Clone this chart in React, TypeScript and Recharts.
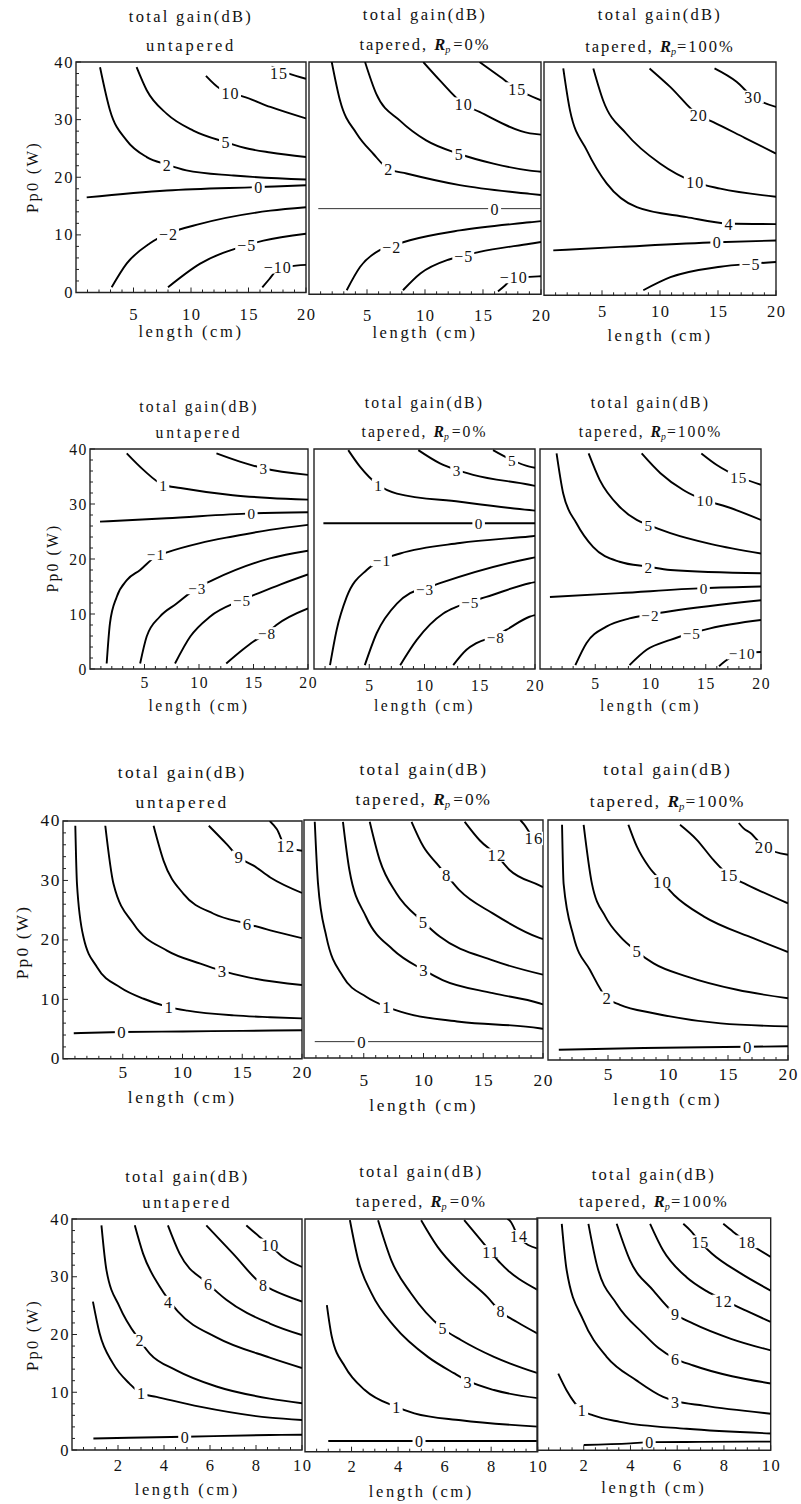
import React from 'react';
import { ComposedChart, Line, XAxis, YAxis, ReferenceArea } from 'recharts';

type Pt = [number, number];
interface Contour { level: string; pts: Pt[] }
interface Lbl { x: number; y: number; text: string }

// ---------- tick values ----------
const xTicksLong = [1, 2, 3, 4, 5, 6, 7, 8, 9, 10, 11, 12, 13, 14, 15, 16, 17, 18, 19, 20];
const xMajorLong = [5, 10, 15, 20];
const xTicksShort = [0.5, 1, 1.5, 2, 2.5, 3, 3.5, 4, 4.5, 5, 5.5, 6, 6.5, 7, 7.5, 8, 8.5, 9, 9.5, 10];
const xMajorShort = [2, 4, 6, 8, 10];
const yTicksAll = [0, 2, 4, 6, 8, 10, 12, 14, 16, 18, 20, 22, 24, 26, 28, 30, 32, 34, 36, 38, 40];
const yMajor = [0, 10, 20, 30, 40];

// ---------- text ----------
const titleMain = 'total gain(dB)';
const subUntapered = 'untapered';
const subTapered = 'tapered,';
const rpZero = '=0%';
const rpFull = '=100%';
const xLabelText = 'length (cm)';
const yLabelText = 'Pp0 (W)';

// ---------- row 1 ----------
const r1p1Lines: Contour[] = [
  { level: '15', pts: [[17.0, 39.2], [18.5, 38.0], [20, 37.1]] },
  { level: '10', pts: [[11.3, 37.6], [12.5, 35.4], [13.4, 34.6], [14.55, 34.0], [16.9, 32.2], [20, 30.2]] },
  { level: '5', pts: [[5.27, 39.1], [6.15, 35.1], [7.9, 31.0], [10.2, 28.1], [13.0, 26.1], [15.1, 24.9], [16.9, 24.3], [20, 23.5]] },
  { level: '2', pts: [[2.09, 39.1], [2.96, 31.6], [4.4, 26.4], [6.15, 23.5], [7.9, 22.2], [9.6, 21.2], [13.7, 20.3], [20, 19.6]] },
  { level: '0', pts: [[0.93, 16.5], [7.9, 17.7], [15.85, 18.3], [20, 18.6]] },
  { level: '-2', pts: [[3.1, 0.9], [4.4, 5.0], [6.4, 8.5], [8.0, 10.2], [10.8, 11.9], [16.9, 14.2], [20, 14.8]] },
  { level: '-5', pts: [[8.0, 0.9], [10.8, 5.0], [14.8, 8.2], [16.3, 9.0], [20, 10.2]] },
  { level: '-10', pts: [[16.2, 0.9], [16.8, 2.3], [17.5, 3.9], [18.5, 4.5], [20, 4.8]] },
];
const r1p1Labels: Lbl[] = [
  { x: 17.6, y: 38.1, text: '15' }, { x: 13.4, y: 34.6, text: '10' }, { x: 13.0, y: 26.1, text: '5' },
  { x: 7.9, y: 22.2, text: '2' }, { x: 15.85, y: 18.3, text: '0' }, { x: 8.0, y: 10.2, text: '−2' },
  { x: 14.8, y: 8.2, text: '−5' }, { x: 17.5, y: 4.4, text: '−10' },
];

const r1p2Lines: Contour[] = [
  { level: '15', pts: [[14.7, 40], [16.5, 37.4], [17.9, 35.4], [20, 33.4]] },
  { level: '10', pts: [[9.85, 40], [11.3, 36.8], [13.3, 32.8], [14.7, 31.4], [19.05, 27.7], [20, 27.5]] },
  { level: '5', pts: [[4.83, 40], [5.8, 34.5], [7.84, 29.9], [10.1, 26.5], [12.9, 24.2], [15.9, 22.5], [19.05, 21.3], [20, 21.1]] },
  { level: '2', pts: [[1.96, 40], [2.67, 33.4], [4.1, 27.7], [5.54, 24.2], [6.84, 21.6], [8.4, 20.8], [13.0, 18.8], [19.05, 17.3], [20, 17.1]] },
  { level: '0', pts: [[0.8, 14.75], [20, 14.75]] },
  { level: '-2', pts: [[3.25, 0.7], [4.4, 4.7], [6.1, 7.6], [7.1, 8.3], [8.7, 9.3], [13.0, 11.0], [19.05, 12.4], [20, 12.6]] },
  { level: '-5', pts: [[8.1, 0.7], [9.6, 3.6], [11.9, 5.9], [13.3, 6.6], [14.7, 7.3], [19.05, 8.7], [20, 9.0]] },
  { level: '-10', pts: [[16.3, 0.5], [16.9, 1.5], [17.6, 2.8], [19, 3.0], [20, 3.1]] },
];
const r1p2Labels: Lbl[] = [
  { x: 17.9, y: 35.4, text: '15' }, { x: 13.3, y: 32.8, text: '10' }, { x: 12.9, y: 24.2, text: '5' },
  { x: 6.84, y: 21.6, text: '2' }, { x: 16.0, y: 14.75, text: '0' }, { x: 7.1, y: 8.2, text: '−2' },
  { x: 13.3, y: 6.6, text: '−5' }, { x: 17.6, y: 3.0, text: '−10' },
];

const r1p3Lines: Contour[] = [
  { level: '30', pts: [[14.7, 38.9], [16.6, 36.6], [18.0, 34.0], [20, 32.3]] },
  { level: '20', pts: [[9.1, 38.9], [10.9, 35.7], [13.3, 30.9], [14.6, 29.7], [17.3, 27.0], [20, 24.3]] },
  { level: '10', pts: [[4.25, 38.9], [5.1, 33.4], [7.1, 27.7], [10.0, 22.6], [13.0, 19.4], [15.2, 18.3], [20, 16.9]] },
  { level: '4', pts: [[1.66, 38.9], [2.24, 31.7], [3.68, 24.9], [5.4, 19.2], [8.0, 15.1], [12.3, 13.4], [15.9, 12.3], [20, 12.2]] },
  { level: '0', pts: [[0.8, 7.7], [6.55, 8.3], [14.9, 9.1], [20, 9.4]] },
  { level: '-5', pts: [[8.56, 0.86], [10.9, 3.1], [15.2, 4.9], [17.8, 5.4], [20, 5.7]] },
];
const r1p3Labels: Lbl[] = [
  { x: 18.0, y: 34.0, text: '30' }, { x: 13.3, y: 30.9, text: '20' }, { x: 13.0, y: 19.4, text: '10' },
  { x: 15.9, y: 12.3, text: '4' }, { x: 14.9, y: 9.1, text: '0' }, { x: 17.8, y: 5.4, text: '−5' },
];

// ---------- row 2 ----------
const r2p1Lines: Contour[] = [
  { level: '3', pts: [[11.6, 39.2], [13.75, 37.7], [15.9, 36.5], [20, 35.3]] },
  { level: '1', pts: [[3.37, 39.2], [4.9, 36.2], [6.7, 33.5], [8.3, 32.9], [13.1, 31.6], [16.5, 31.1], [20, 30.8]] },
  { level: '0', pts: [[0.92, 26.8], [7.0, 27.4], [14.8, 28.3], [20, 28.5]] },
  { level: '-1', pts: [[1.53, 1.0], [1.83, 8.3], [2.45, 13.1], [3.4, 16.2], [4.6, 18.0], [6.0, 20.4], [7.2, 21.3], [10.1, 22.9], [13.1, 24.1], [16.5, 25.3], [20, 26.2]] },
  { level: '-3', pts: [[4.6, 1.0], [5.2, 5.9], [6.4, 9.5], [7.95, 11.9], [9.8, 14.7], [11.3, 16.2], [16.5, 20.1], [20, 21.5]] },
  { level: '-5', pts: [[7.8, 1.0], [9.2, 5.9], [11.0, 9.5], [13.9, 12.5], [15.6, 13.9], [17.5, 15.4], [20, 17.2]] },
  { level: '-8', pts: [[12.5, 1.0], [14.0, 3.5], [15.0, 5.0], [16.2, 6.5], [17.1, 8.0], [20, 11.0]] },
];
const r2p1Labels: Lbl[] = [
  { x: 6.7, y: 33.5, text: '1' }, { x: 15.9, y: 36.5, text: '3' }, { x: 14.8, y: 28.3, text: '0' },
  { x: 6.0, y: 20.9, text: '−1' }, { x: 9.8, y: 14.7, text: '−3' }, { x: 13.9, y: 12.5, text: '−5' },
  { x: 16.2, y: 6.5, text: '−8' },
];

const r2p2Lines: Contour[] = [
  { level: '5', pts: [[16.2, 39.8], [17.9, 38.0], [19.5, 36.8], [20, 36.6]] },
  { level: '3', pts: [[9.44, 39.8], [11.4, 37.4], [12.9, 36.2], [14.4, 35.3], [19.5, 33.5], [20, 33.3]] },
  { level: '1', pts: [[3.1, 39.8], [4.16, 36.8], [5.8, 33.5], [7.5, 31.9], [13.2, 30.4], [19.5, 28.9], [20, 28.8]] },
  { level: '0', pts: [[0.85, 26.5], [20, 26.5]] },
  { level: '-1', pts: [[1.45, 0.7], [2.05, 7.1], [2.96, 13.1], [4.77, 18.0], [6.1, 19.8], [7.8, 21.0], [13.2, 22.9], [19.5, 24.1], [20, 24.2]] },
  { level: '-3', pts: [[4.6, 0.7], [5.67, 6.5], [7.5, 11.9], [8.7, 13.8], [10.0, 14.6], [11.4, 15.6], [19.5, 20.1], [20, 20.3]] },
  { level: '-5', pts: [[7.8, 0.7], [9.3, 5.3], [11.7, 10.1], [12.9, 11.3], [14.1, 12.2], [15.6, 13.1], [19.5, 15.6], [20, 15.8]] },
  { level: '-8', pts: [[12.6, 0.7], [13.8, 3.5], [14.7, 4.7], [16.4, 6.0], [17.4, 7.1], [19.5, 9.5], [20, 9.8]] },
];
const r2p2Labels: Lbl[] = [
  { x: 5.8, y: 33.5, text: '1' }, { x: 12.9, y: 36.2, text: '3' }, { x: 17.9, y: 38.0, text: '5' },
  { x: 14.9, y: 26.5, text: '0' }, { x: 6.1, y: 19.8, text: '−1' }, { x: 10.0, y: 14.5, text: '−3' },
  { x: 14.1, y: 12.2, text: '−5' }, { x: 16.4, y: 5.8, text: '−8' },
];

const r2p3Lines: Contour[] = [
  { level: '15', pts: [[14.6, 39.2], [16.0, 37.1], [17.95, 35.0], [20, 33.5]] },
  { level: '10', pts: [[9.2, 39.2], [10.9, 35.6], [13.0, 32.5], [14.9, 30.7], [16.9, 29.5], [20, 27.1]] },
  { level: '5', pts: [[4.4, 39.2], [5.4, 34.4], [7.2, 29.5], [8.75, 27.1], [9.8, 26.2], [11.8, 24.7], [15.5, 22.7], [20, 21.0]] },
  { level: '2', pts: [[1.5, 39.2], [2.1, 31.9], [3.3, 26.5], [4.8, 22.2], [7.2, 19.5], [9.8, 18.6], [11.8, 18.0], [20, 17.4]] },
  { level: '0', pts: [[0.9, 13.1], [7.2, 13.8], [14.8, 14.7], [20, 15.0]] },
  { level: '-2', pts: [[3.2, 0.7], [4.2, 4.7], [6.0, 7.7], [8.1, 9.2], [9.95, 9.9], [11.8, 10.5], [20, 12.5]] },
  { level: '-5', pts: [[8.1, 0.7], [9.65, 3.5], [11.8, 5.3], [13.7, 6.5], [15.4, 7.4], [20, 8.9]] },
  { level: '-10', pts: [[16.2, 0.5], [16.8, 1.5], [17.8, 2.6], [19, 3.0], [20, 3.1]] },
];
const r2p3Labels: Lbl[] = [
  { x: 17.95, y: 35.0, text: '15' }, { x: 14.9, y: 30.7, text: '10' }, { x: 9.8, y: 26.2, text: '5' },
  { x: 9.8, y: 18.6, text: '2' }, { x: 14.8, y: 14.7, text: '0' }, { x: 9.95, y: 9.8, text: '−2' },
  { x: 13.7, y: 6.5, text: '−5' }, { x: 18.25, y: 2.85, text: '−10' },
];

// ---------- row 3 ----------
const r3p1Lines: Contour[] = [
  { level: '12', pts: [[17.3, 40], [17.9, 38.6], [18.6, 35.8], [20, 35.0]] },
  { level: '9', pts: [[12.2, 39.2], [13.7, 36.1], [14.7, 33.9], [15.95, 32.5], [17.35, 30.5], [20, 27.9]] },
  { level: '6', pts: [[7.58, 39.2], [8.42, 33.3], [10.1, 27.7], [12.6, 24.4], [15.4, 22.7], [17.35, 21.6], [20, 20.3]] },
  { level: '3', pts: [[3.54, 39.2], [4.23, 29.4], [5.9, 22.7], [8.7, 18.2], [11.5, 16.0], [13.3, 14.8], [15.5, 13.7], [20, 12.4]] },
  { level: '1', pts: [[1.03, 39.2], [1.17, 29.4], [1.72, 20.4], [2.85, 15.4], [4.8, 12.0], [6.75, 10.1], [8.84, 8.7], [10.4, 8.1], [14.3, 7.3], [17.35, 7.0], [20, 6.8]] },
  { level: '0', pts: [[0.9, 4.3], [4.9, 4.5], [10, 4.6], [15, 4.7], [20, 4.8]] },
];
const r3p1Labels: Lbl[] = [
  { x: 18.6, y: 35.8, text: '12' }, { x: 14.7, y: 33.9, text: '9' }, { x: 15.4, y: 22.7, text: '6' },
  { x: 13.3, y: 14.8, text: '3' }, { x: 8.84, y: 8.7, text: '1' }, { x: 4.9, y: 4.5, text: '0' },
];

const r3p2Lines: Contour[] = [
  { level: '16', pts: [[18.1, 40], [18.4, 39.3], [19.2, 37.0], [20, 36.2]] },
  { level: '12', pts: [[13.45, 39.7], [14.7, 36.6], [16.1, 34.1], [17.2, 31.6], [19.7, 29.0], [20, 28.7]] },
  { level: '8', pts: [[9.0, 39.7], [10.0, 35.5], [11.1, 32.7], [11.9, 30.8], [13.0, 28.2], [15.8, 24.3], [19.7, 20.2], [20, 20.0]] },
  { level: '5', pts: [[5.5, 39.7], [6.33, 33.3], [7.73, 27.7], [9.96, 22.9], [11.36, 20.4], [15.8, 16.4], [20, 14.0]] },
  { level: '3', pts: [[3.26, 39.7], [3.8, 31.6], [5.2, 23.7], [7.45, 18.2], [10.0, 14.8], [11.6, 13.1], [15.8, 10.9], [19.7, 9.2], [20, 9.0]] },
  { level: '1', pts: [[0.9, 39.7], [1.17, 29.4], [1.87, 20.4], [3.26, 13.7], [5.2, 10.3], [6.9, 8.6], [8.57, 7.5], [13.0, 6.1], [19.7, 5.0], [20, 4.9]] },
  { level: '0', pts: [[0.9, 2.75], [20, 2.75]] },
];
const r3p2Labels: Lbl[] = [
  { x: 19.2, y: 36.9, text: '16' }, { x: 16.1, y: 34.1, text: '12' }, { x: 11.9, y: 30.8, text: '8' },
  { x: 9.96, y: 22.9, text: '5' }, { x: 10.0, y: 14.8, text: '3' }, { x: 6.9, y: 8.6, text: '1' },
  { x: 4.8, y: 2.75, text: '0' },
];

const r3p3Lines: Contour[] = [
  { level: '20', pts: [[15.9, 39.5], [16.3, 38.6], [16.9, 37.8], [18.0, 35.5], [20, 34.2]] },
  { level: '15', pts: [[11.0, 39.2], [12.4, 36.7], [13.8, 33.3], [15.05, 30.8], [16.6, 29.2], [20, 26.1]] },
  { level: '10', pts: [[6.7, 39.2], [7.4, 35.6], [8.4, 32.2], [9.5, 29.7], [10.5, 27.5], [13.0, 23.9], [17.1, 20.3], [20, 18.0]] },
  { level: '5', pts: [[2.97, 39.2], [3.66, 29.4], [4.78, 23.9], [6.0, 20.6], [7.4, 18.1], [8.8, 16.1], [11.6, 13.9], [15.75, 11.7], [20, 10.3]] },
  { level: '2', pts: [[1.17, 39.2], [1.3, 29.4], [2.13, 20.6], [3.5, 15.0], [4.9, 10.3], [6.0, 9.2], [8.8, 7.8], [14.4, 6.1], [20, 5.6]] },
  { level: '0', pts: [[0.9, 1.7], [8, 2.0], [16.6, 2.2], [20, 2.3]] },
];
const r3p3Labels: Lbl[] = [
  { x: 17.97, y: 35.5, text: '20' }, { x: 15.05, y: 30.8, text: '15' }, { x: 9.5, y: 29.7, text: '10' },
  { x: 7.4, y: 18.1, text: '5' }, { x: 4.9, y: 10.3, text: '2' }, { x: 16.6, y: 2.2, text: '0' },
];

// ---------- row 4 ----------
const r4p1Lines: Contour[] = [
  { level: '10', pts: [[7.58, 38.9], [8.16, 36.9], [8.6, 35.5], [9.17, 33.4], [10, 31.7]] },
  { level: '8', pts: [[5.84, 38.9], [7.0, 34.0], [8.3, 28.6], [8.74, 27.7], [10, 25.7]] },
  { level: '6', pts: [[4.17, 38.9], [4.68, 34.0], [5.91, 28.8], [6.71, 26.0], [8.6, 21.9], [10, 19.9]] },
  { level: '4', pts: [[2.73, 38.9], [3.09, 34.0], [3.81, 28.3], [4.2, 26.0], [4.6, 24.0], [6.28, 19.5], [8.6, 16.0], [10, 14.2]] },
  { level: '2', pts: [[1.28, 38.9], [1.5, 31.1], [2.07, 24.8], [2.94, 19.0], [3.38, 16.7], [4.54, 13.8], [6.28, 11.0], [8.6, 8.9], [10, 8.1]] },
  { level: '1', pts: [[0.91, 25.7], [1.2, 20.2], [1.78, 15.0], [2.5, 11.5], [3.0, 9.8], [3.67, 9.2], [5.55, 7.5], [8.6, 5.6], [10, 5.2]] },
  { level: '0', pts: [[0.93, 2.0], [4.9, 2.3], [8.6, 2.6], [10, 2.65]] },
];
const r4p1Labels: Lbl[] = [
  { x: 8.6, y: 35.5, text: '10' }, { x: 8.3, y: 28.6, text: '8' }, { x: 5.91, y: 28.8, text: '6' },
  { x: 4.17, y: 25.6, text: '4' }, { x: 2.94, y: 19.0, text: '2' }, { x: 3.0, y: 9.8, text: '1' },
  { x: 4.9, y: 2.3, text: '0' },
];

const r4p2Lines: Contour[] = [
  { level: '14', pts: [[8.7, 40], [8.83, 39.6], [9.18, 36.9], [10, 34.9]] },
  { level: '11', pts: [[6.84, 39.8], [7.55, 36.4], [7.97, 34.4], [8.4, 32.4], [10, 27.8]] },
  { level: '8', pts: [[4.99, 39.8], [5.7, 35.2], [6.7, 30.7], [7.83, 26.6], [8.4, 24.1], [9.11, 22.3], [10, 20.3]] },
  { level: '5', pts: [[3.14, 39.8], [3.71, 32.9], [4.56, 27.2], [5.91, 21.2], [6.7, 19.2], [8.12, 16.3], [10, 13.5]] },
  { level: '3', pts: [[1.93, 39.8], [2.29, 32.9], [2.86, 27.2], [3.85, 21.5], [5.28, 16.3], [6.4, 13.5], [6.98, 12.2], [8.12, 10.6], [10, 9.2]] },
  { level: '1', pts: [[0.94, 25.2], [1.15, 19.8], [1.72, 14.6], [2.57, 10.6], [3.92, 7.7], [4.7, 6.6], [6.7, 5.4], [10, 4.3]] },
  { level: '0', pts: [[1.0, 1.85], [10, 1.85]] },
];
const r4p2Labels: Lbl[] = [
  { x: 9.18, y: 37.0, text: '14' }, { x: 7.97, y: 34.4, text: '11' }, { x: 8.4, y: 24.1, text: '8' },
  { x: 5.91, y: 21.2, text: '5' }, { x: 6.98, y: 12.0, text: '3' }, { x: 3.92, y: 7.7, text: '1' },
  { x: 4.9, y: 1.85, text: '0' },
];

const r4p3Lines: Contour[] = [
  { level: '18', pts: [[7.97, 39.0], [8.4, 37.6], [8.97, 35.9], [10, 33.3]] },
  { level: '15', pts: [[6.26, 39.0], [6.55, 37.9], [6.97, 35.9], [7.48, 33.9], [8.7, 30.5], [10, 27.5]] },
  { level: '12', pts: [[4.84, 39.0], [5.4, 34.4], [6.4, 29.8], [7.26, 27.4], [7.97, 25.9], [8.97, 24.0], [10, 22.1]] },
  { level: '9', pts: [[3.41, 39.0], [3.98, 32.7], [4.98, 27.5], [5.9, 23.5], [6.69, 21.8], [8.3, 19.2], [10, 17.2]] },
  { level: '6', pts: [[2.2, 39.0], [2.55, 32.1], [3.41, 25.2], [4.55, 20.1], [5.2, 17.6], [5.9, 15.8], [6.69, 14.6], [10, 11.5]] },
  { level: '3', pts: [[1.06, 39.0], [1.27, 31.0], [1.98, 22.4], [2.98, 16.1], [4.27, 12.0], [5.4, 9.2], [5.9, 8.5], [7.12, 7.7], [10, 6.3]] },
  { level: '1', pts: [[0.91, 13.2], [1.27, 10.3], [1.91, 6.9], [2.41, 6.0], [3.55, 4.9], [6.4, 3.7], [10, 2.9]] },
  { level: '0', pts: [[2.0, 0.9], [4.0, 1.2], [4.8, 1.4], [7, 1.45], [10, 1.5]] },
];
const r4p3Labels: Lbl[] = [
  { x: 8.97, y: 35.9, text: '18' }, { x: 6.97, y: 35.9, text: '15' }, { x: 7.97, y: 25.7, text: '12' },
  { x: 5.9, y: 23.5, text: '9' }, { x: 5.9, y: 15.8, text: '6' }, { x: 5.9, y: 8.4, text: '3' },
  { x: 1.91, y: 6.9, text: '1' }, { x: 4.8, y: 1.5, text: '0' },
];

// ---------- layout (positions & styles) ----------
interface PanelCfg {
  lines: Contour[]; labels: Lbl[];
  L: number; T: number; R: number; B: number; xmax: number; showY: boolean;
  tickDy: number; xlabY: number; t1Y: number; t2Y: number; sub: 'u' | 'z' | 'f';
  ylab?: [number, number]; fs: number; thinZero?: boolean;
}

const layout: PanelCfg[] = [
  { lines: r1p1Lines, labels: r1p1Labels, L: 76, T: 61.5, R: 306, B: 292, xmax: 20, showY: true, tickDy: 22, xlabY: 332, t1Y: 16.7, t2Y: 46, sub: 'u', ylab: [33, 177], fs: 1.0 },
  { lines: r1p2Lines, labels: r1p2Labels, L: 309, T: 61.7, R: 541, B: 294, xmax: 20, showY: false, tickDy: 21, xlabY: 333, t1Y: 15, t2Y: 45, sub: 'z', fs: 1.0, thinZero: true },
  { lines: r1p3Lines, labels: r1p3Labels, L: 544, T: 61.7, R: 776, B: 295, xmax: 20, showY: false, tickDy: 16, xlabY: 336, t1Y: 15, t2Y: 46.7, sub: 'f', fs: 1.0 },
  { lines: r2p1Lines, labels: r2p1Labels, L: 90, T: 449, R: 308, B: 669, xmax: 20, showY: true, tickDy: 13, xlabY: 706, t1Y: 406.7, t2Y: 433.3, sub: 'u', ylab: [53, 558], fs: 0.95 },
  { lines: r2p2Lines, labels: r2p2Labels, L: 314, T: 449, R: 535, B: 669, xmax: 20, showY: false, tickDy: 16, xlabY: 706, t1Y: 403.3, t2Y: 431.7, sub: 'z', fs: 0.95 },
  { lines: r2p3Lines, labels: r2p3Labels, L: 540, T: 449, R: 761, B: 669, xmax: 20, showY: false, tickDy: 14, xlabY: 706, t1Y: 403.3, t2Y: 431.7, sub: 'f', fs: 0.95 },
  { lines: r3p1Lines, labels: r3p1Labels, L: 62.7, T: 820.5, R: 301.7, B: 1058.3, xmax: 20, showY: true, tickDy: 13.5, xlabY: 1098, t1Y: 773.3, t2Y: 803.3, sub: 'u', ylab: [23, 942], fs: 1.05 },
  { lines: r3p2Lines, labels: r3p2Labels, L: 304.3, T: 820, R: 543.3, B: 1058, xmax: 20, showY: false, tickDy: 22.5, xlabY: 1106, t1Y: 770, t2Y: 800, sub: 'z', fs: 1.05, thinZero: true },
  { lines: r3p3Lines, labels: r3p3Labels, L: 547.7, T: 820, R: 787.7, B: 1060, xmax: 20, showY: false, tickDy: 14, xlabY: 1100, t1Y: 770, t2Y: 801.7, sub: 'f', fs: 1.05 },
  { lines: r4p1Lines, labels: r4p1Labels, L: 72.3, T: 1219, R: 302.3, B: 1450, xmax: 10, showY: true, tickDy: 15, xlabY: 1490, t1Y: 1176.7, t2Y: 1203.3, sub: 'u', ylab: [33, 1335], fs: 1.0 },
  { lines: r4p2Lines, labels: r4p2Labels, L: 305, T: 1219, R: 537.7, B: 1451.7, xmax: 10, showY: false, tickDy: 15, xlabY: 1491.7, t1Y: 1171.7, t2Y: 1201.7, sub: 'z', fs: 1.0 },
  { lines: r4p3Lines, labels: r4p3Labels, L: 537, T: 1217.7, R: 770.7, B: 1450, xmax: 10, showY: false, tickDy: 15, xlabY: 1488, t1Y: 1175, t2Y: 1201.7, sub: 'f', fs: 1.0 },
];

const FONT = "'Liberation Serif', 'DejaVu Serif', 'Times New Roman', Times, serif";
const INK = '#111';
const FRAME = '#222';

function toData(pts: Pt[]) {
  return pts.map(([x, y]) => ({ x, y }));
}

function makeXTick(majors: number[], dy: number, fs: number) {
  return function XTick(props: any) {
    const { x, y, payload } = props;
    const v = payload ? payload.value : 0;
    const isMajor = majors.some((m) => Math.abs(m - v) < 1e-6);
    return (
      <g>
        <line x1={x} x2={x} y1={y} y2={y - (isMajor ? 5 : 3)} stroke={FRAME} strokeWidth={1} />
        {isMajor && (
          <text x={x + 0.8} y={y + dy} textAnchor="middle" dominantBaseline="central"
            style={{ fontFamily: FONT, fontSize: 16.5 * fs, letterSpacing: 1.6 }} fill={INK}>{v}</text>
        )}
      </g>
    );
  };
}

function makeYTick(fs: number) {
  return function YTick(props: any) {
    const { x, y, payload } = props;
    const v = payload ? payload.value : 0;
    const isMajor = yMajor.includes(v);
    return (
      <g>
        <line x1={x} x2={x + (isMajor ? 5 : 3)} y1={y} y2={y} stroke={FRAME} strokeWidth={1} />
        {isMajor && (
          <text x={x - 2} y={y} textAnchor="end" dominantBaseline="central"
            style={{ fontFamily: FONT, fontSize: 16.5 * fs, letterSpacing: 1.6 }} fill={INK}>{v}</text>
        )}
      </g>
    );
  };
}

function makeLabelDot(fs: number) {
  return function LabelDot(props: any) {
    const { cx, cy, payload, index } = props;
    if (cx == null || cy == null || !payload) return <g key={`n${index}`} />;
    const t = String(payload.text);
    const size = 16 * fs;
    const w = t.length * size * 0.56 + 4;
    const h = size * 0.8;
    return (
      <g key={`l${index}`}>
        <rect x={cx - w / 2} y={cy - h / 2} width={w} height={h} fill="#fff" />
        <text x={cx + 0.5} y={cy + 0.5} textAnchor="middle" dominantBaseline="central"
          style={{ fontFamily: FONT, fontSize: size, letterSpacing: 1 }} fill={INK}>{t}</text>
      </g>
    );
  };
}

const ML = 50, MR = 18, MT = 14, XH = 46;

function Panel({ cfg }: { cfg: PanelCfg }) {
  const w = cfg.R - cfg.L;
  const h = cfg.B - cfg.T;
  const isLong = cfg.xmax === 20;
  const xt = isLong ? xTicksLong : xTicksShort;
  const xm = isLong ? xMajorLong : xMajorShort;
  return (
    <div style={{ position: 'absolute', left: cfg.L - ML, top: cfg.T - MT }}>
      <ComposedChart width={w + ML + MR} height={h + MT + XH}
        margin={{ top: MT, right: MR, bottom: 0, left: 0 }} style={{ overflow: 'visible' }}>
        <XAxis type="number" dataKey="x" domain={[0, cfg.xmax]} ticks={xt} interval={0}
          allowDataOverflow tickLine={false} axisLine={false} tickSize={0} tickMargin={0}
          height={XH} tick={makeXTick(xm, cfg.tickDy, cfg.fs)} />
        <YAxis type="number" dataKey="y" domain={[0, 40]} ticks={yTicksAll} interval={0}
          allowDataOverflow width={ML} tickLine={false} axisLine={false} tickSize={0} tickMargin={0}
          tick={cfg.showY ? makeYTick(cfg.fs) : false} />
        <ReferenceArea x1={0} x2={cfg.xmax} y1={0} y2={40} fill="none" fillOpacity={0}
          stroke={FRAME} strokeWidth={1.4} ifOverflow="visible" />
        {cfg.lines.map((c) => {
          const thin = cfg.thinZero && c.level === '0';
          return (
            <Line key={c.level} data={toData(c.pts)} dataKey="y" type="monotone"
              stroke={thin ? '#333' : '#000'} strokeWidth={thin ? 1 : 1.9}
              dot={false} activeDot={false} isAnimationActive={false} legendType="none" />
          );
        })}
        <Line key="labels" data={cfg.labels} dataKey="y" stroke="none" fill="none"
          dot={makeLabelDot(cfg.fs)} activeDot={false} isAnimationActive={false} legendType="none" />
      </ComposedChart>
    </div>
  );
}

function Texts({ cfg }: { cfg: PanelCfg }) {
  const cx = (cfg.L + cfg.R) / 2;
  const fsT = 16.5 * cfg.fs;
  const base: React.CSSProperties = {
    position: 'absolute', width: 300, left: cx - 150, height: 24, lineHeight: '24px',
    textAlign: 'center', fontFamily: FONT, fontSize: fsT, color: INK, whiteSpace: 'nowrap',
  };
  let sub: React.ReactNode;
  if (cfg.sub === 'u') {
    sub = <span style={{ letterSpacing: 2.8 }}>{subUntapered}</span>;
  } else {
    sub = (
      <span style={{ letterSpacing: 2 }}>
        {subTapered}{' '}
        <span style={{ fontStyle: 'italic', fontWeight: 'bold', letterSpacing: 0 }}>R</span>
        <span style={{ fontStyle: 'italic', fontSize: '0.62em', position: 'relative', top: '0.3em', letterSpacing: 0 }}>p</span>
        <span style={{ marginLeft: cfg.sub === 'z' ? 3 : 1 }}>{cfg.sub === 'z' ? rpZero : rpFull}</span>
      </span>
    );
  }
  return (
    <>
      <div style={{ ...base, top: cfg.t1Y - 12, letterSpacing: 2.3 }}>{titleMain}</div>
      <div style={{ ...base, top: cfg.t2Y - 12 }}>{sub}</div>
      <div style={{ ...base, top: cfg.xlabY - 12, letterSpacing: 2.6 }}>{xLabelText}</div>
      {cfg.ylab && (
        <div style={{
          ...base, left: cfg.ylab[0] - 150, top: cfg.ylab[1] - 12, letterSpacing: 2.2,
          transform: 'rotate(-90deg)', transformOrigin: '50% 50%',
        }}>{yLabelText}</div>
      )}
    </>
  );
}

export default function App() {
  return (
    <div style={{ position: 'absolute', left: 0, top: 0, width: 801, height: 1504, background: '#fff', overflow: 'hidden' }}>
      {layout.map((cfg, i) => (
        <React.Fragment key={i}>
          <Panel cfg={cfg} />
          <Texts cfg={cfg} />
        </React.Fragment>
      ))}
    </div>
  );
}
